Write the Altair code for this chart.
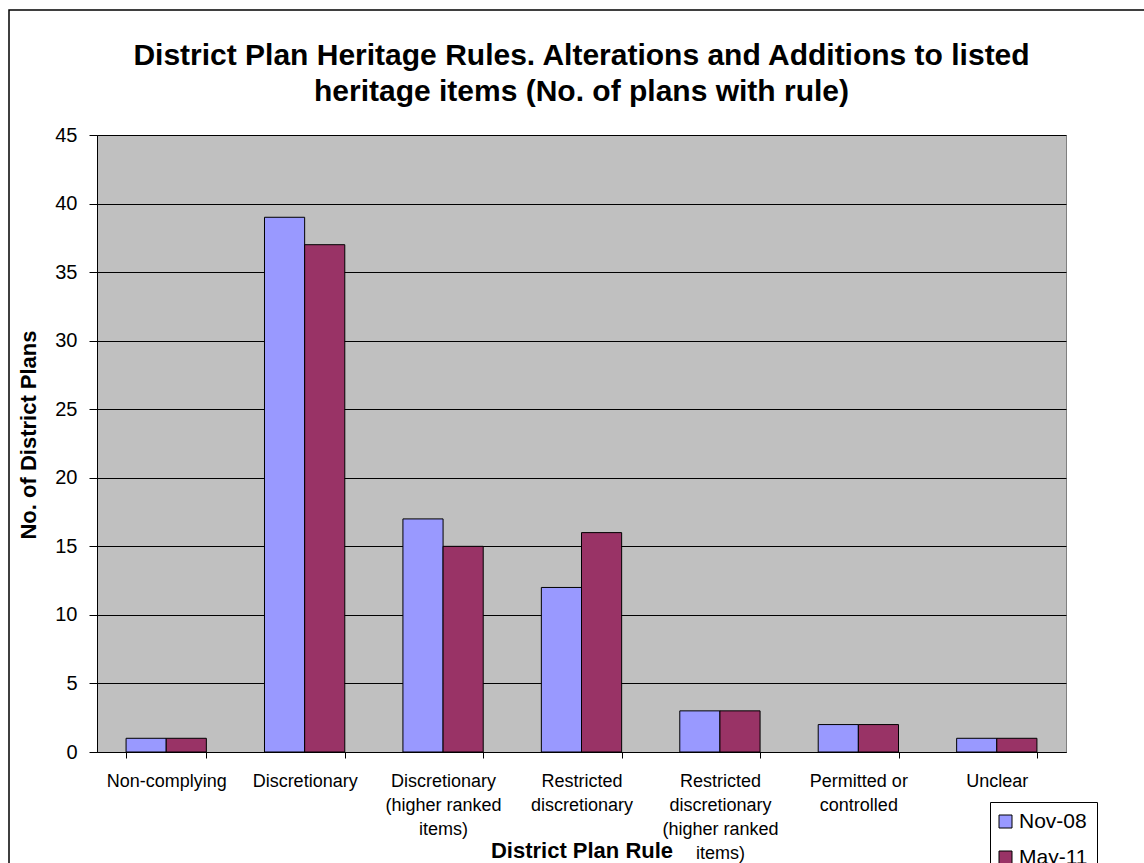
import altair as alt
import pandas as pd

categories = [
    "Non-complying",
    "Discretionary",
    "Discretionary (higher ranked items)",
    "Restricted discretionary",
    "Restricted discretionary (higher ranked items)",
    "Permitted or controlled",
    "Unclear",
]
label_lines = [
    ["Non-complying"],
    ["Discretionary"],
    ["Discretionary", "(higher ranked", "items)"],
    ["Restricted", "discretionary"],
    ["Restricted", "discretionary", "(higher ranked", "items)"],
    ["Permitted or", "controlled"],
    ["Unclear"],
]
series = ["Nov-08", "May-11"]
nov08 = [1, 39, 17, 12, 3, 2, 1]
may11 = [1, 37, 15, 16, 3, 2, 1]
colors = ["#9999FF", "#993366"]

rows = []
for i, c in enumerate(categories):
    rows.append({"rule": c, "period": series[0], "count": nov08[i]})
    rows.append({"rule": c, "period": series[1], "count": may11[i]})
df = pd.DataFrame(rows)

# label expression mapping category -> multi-line label
expr = "[" + ",".join(repr(l) for l in label_lines) + "]"
cats = "[" + ",".join(repr(c) for c in categories) + "]"
label_expr = f"{expr}[indexof({cats}, datum.value)]"

FONT = "Liberation Sans"
W, H = 969, 617

bars = alt.Chart(df).mark_bar(stroke="black", strokeWidth=1).encode(
    x=alt.X(
        "rule:N",
        sort=categories,
        scale=alt.Scale(paddingInner=0.42, paddingOuter=0.21),
        title="District Plan Rule",
        axis=alt.Axis(
            labelExpr=label_expr,
            labelAngle=0,
            labelFontSize=18,
            labelFont=FONT,
            labelColor="black",
            labelLineHeight=24,
            labelPadding=14,
            labelBaseline="top",
            tickBand="extent",
            tickSize=6,
            tickColor="black",
            domainColor="black",
            titleFont=FONT,
            titleFontSize=22,
            titleFontWeight="bold",
            titleColor="black",
            titleX=W / 2,
            titleY=105,
            titleBaseline="alphabetic",
            titleAlign="center",
            grid=False,
        ),
    ),
    xOffset=alt.XOffset("period:N", sort=series, scale=alt.Scale(paddingInner=0, paddingOuter=0)),
    y=alt.Y(
        "count:Q",
        scale=alt.Scale(domain=[0, 45], nice=False),
        title="No. of District Plans",
        axis=alt.Axis(
            values=list(range(0, 50, 5)),
            labelFontSize=20,
            labelFont=FONT,
            labelColor="black",
            labelPadding=12,
            tickSize=8,
            tickColor="black",
            domainColor="black",
            grid=True,
            gridColor="black",
            gridWidth=1,
            titleFont=FONT,
            titleFontSize=22,
            titleFontWeight="bold",
            titleColor="black",
            titleX=-69,
            titleY=H / 2 - 9,
            titleAlign="center",
            titleBaseline="middle",
            titleAngle=270,
        ),
    ),
    color=alt.Color(
        "period:N",
        sort=series,
        scale=alt.Scale(domain=series, range=colors),
        legend=alt.Legend(
            title=None,
            orient="none",
            legendX=893,
            legendY=667,
            direction="vertical",
            strokeColor="black",
            fillColor="white",
            padding=9,
            cornerRadius=0,
            symbolType="square",
            symbolSize=169,
            symbolStrokeColor="black",
            symbolStrokeWidth=1,
            symbolOpacity=1,
            symbolOffset=-4,
            labelFont=FONT,
            labelFontSize=21,
            labelColor="black",
            labelOffset=3,
            rowPadding=14,
        ),
    ),
)

border = alt.Chart(pd.DataFrame({"a": [0]})).mark_rect(
    fill="transparent", stroke="black", strokeWidth=1.5, clip=False
).encode(
    x=alt.value(-88), x2=alt.value(1070), y=alt.value(-125), y2=alt.value(800)
)

chart = alt.layer(bars, border).properties(
    width=W,
    height=H,
    autosize=alt.AutoSizeParams(type="none"),
    padding={"left": 97, "top": 135, "right": 78, "bottom": 111},
    background="white",
    title=alt.TitleParams(
        text=[
            "District Plan Heritage Rules. Alterations and Additions to listed",
            "heritage items (No. of plans with rule)",
        ],
        font=FONT,
        fontSize=30,
        fontWeight="bold",
        color="black",
        anchor="middle",
        lineHeight=36,
        offset=-98,
    ),
).configure_view(
    fill="#C0C0C0", stroke="#808080", strokeWidth=1
)

chart.save("out.html", embed_options={"renderer": "svg", "actions": False})
